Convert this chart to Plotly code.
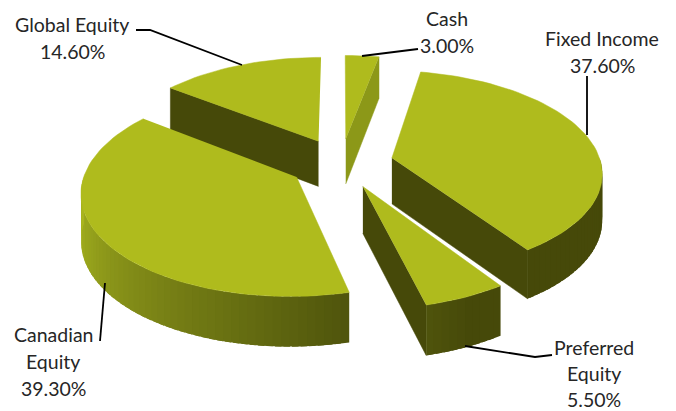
import math
import plotly.graph_objects as go

categories = ["Cash", "Fixed Income", "Preferred Equity", "Canadian Equity", "Global Equity"]
values = [3.0, 37.6, 5.5, 39.3, 14.6]
label_lines = [["Cash"], ["Fixed Income"], ["Preferred", "Equity"], ["Canadian", "Equity"], ["Global Equity"]]
label_pos = [(447, 18), (602, 38), (594, 347), (53, 334), (72, 24)]
label_gap = [27.2, 27.2, 26, 27.2, 27.2]
draw_order = [4, 0, 1, 3, 2]
wall_colors = {0: "#8C9818", 1: "#464909", 2: "#464909", 3: "#464909", 4: "#464909"}

TOP = "#AFBB1D"
DARK = (70, 73, 9)
X0, Y0, R, AR, K, EXPL, H = 341, 163, 209, 100, 0.13, 0.25, 46


def project(u, v, z=0):
    s = 1 / (1 - K * v)
    return X0 + R * u * s, Y0 + AR * v * s + z * H * (1 + 0.08 * v)


def lerp(a, b, t):
    return tuple(a[i] + (b[i] - a[i]) * t for i in range(3))


def hexa(c):
    return "rgb(%d,%d,%d)" % tuple(round(x) for x in c)


def side_color(deg):
    if deg <= 166:
        return DARK if deg < 155 else lerp(DARK, (79, 84, 12), (deg - 155) / 11)
    if deg < 245:
        return lerp((79, 84, 12), (150, 162, 28), (deg - 166) / 79)
    return lerp((150, 162, 28), (172, 184, 30), min(1, (deg - 245) / 25))


fig = go.Figure()


def poly(points, color, stroke=0.5):
    fig.add_trace(go.Scatter(
        x=[p[0] for p in points], y=[p[1] for p in points], mode="lines", fill="toself",
        fillcolor=color, line=dict(color=color, width=stroke), hoverinfo="skip", showlegend=False))


total = sum(values)
starts = []
acc = 0
for v in values:
    starts.append(acc / total * 360)
    acc += v

for i in draw_order:
    a0 = starts[i]
    a1 = a0 + values[i] / total * 360
    mid = math.radians((a0 + a1) / 2)
    ou, ov = EXPL * math.sin(mid), -EXPL * math.cos(mid)

    def rim(deg, z=0):
        t = math.radians(deg)
        return project(ou + math.sin(t), ov - math.cos(t), z)

    apex_t, apex_b = project(ou, ov), project(ou, ov, 1)
    # radial walls that face the viewer
    if -math.sin(math.radians(a0)) > 1e-3:
        poly([apex_t, rim(a0), rim(a0, 1), apex_b], hexa(DARK) if i != 0 else wall_colors[i])
    if math.sin(math.radians(a1)) > 1e-3:
        poly([apex_t, rim(a1), rim(a1, 1), apex_b], wall_colors[i])
    # outer wall, in short overlapping strips for the shading
    lo, hi = max(a0, 90), min(a1, 270)
    d = lo
    strips = []
    while d < hi:
        e = min(d + 2, hi)
        strips.append((d, e))
        d = e
    for d, e in strips:
        arc_deg = [d + (min(e + 1.5, hi) - d) * k / 3 for k in range(4)]
        pts = [rim(q) for q in arc_deg] + [rim(q, 1) for q in reversed(arc_deg)]
        poly(pts, hexa(side_color((d + e) / 2)), stroke=0)
    # top face
    n = max(2, int((a1 - a0) / 2))
    arc = [rim(a0 + (a1 - a0) * k / n) for k in range(n + 1)]
    poly([apex_t] + arc, TOP)

leaders = [
    [(362, 56), (418, 49)],
    [(587, 135), (587, 76)],
    [(465, 346), (535, 357), (552, 355)],
    [(105, 283), (100, 341)],
    [(136, 30), (150, 30), (242, 65)],
]
for pts in leaders:
    fig.add_trace(go.Scatter(x=[p[0] for p in pts], y=[p[1] for p in pts], mode="lines",
                             line=dict(color="#000000", width=1.8), hoverinfo="skip", showlegend=False))

for i in range(len(categories)):
    lines = label_lines[i] + ["%.2f%%" % values[i]]
    x, y = label_pos[i]
    for j, t in enumerate(lines):
        fig.add_annotation(x=x, y=y + j * label_gap[i], text=t, showarrow=False, xanchor="center", yanchor="middle",
                           font=dict(family="Lato", size=19.5, color="#262626"))

fig.update_layout(
    width=676, height=411, autosize=False, margin=dict(l=0, r=0, t=0, b=0),
    paper_bgcolor="white", plot_bgcolor="white", showlegend=False,
    xaxis=dict(range=[0, 676], visible=False, fixedrange=True),
    yaxis=dict(range=[411, 0], visible=False, fixedrange=True),
)
fig.write_html("out.html", config={"displayModeBar": False},
               post_script="document.body.style.margin='0';document.documentElement.style.overflow='hidden';")
